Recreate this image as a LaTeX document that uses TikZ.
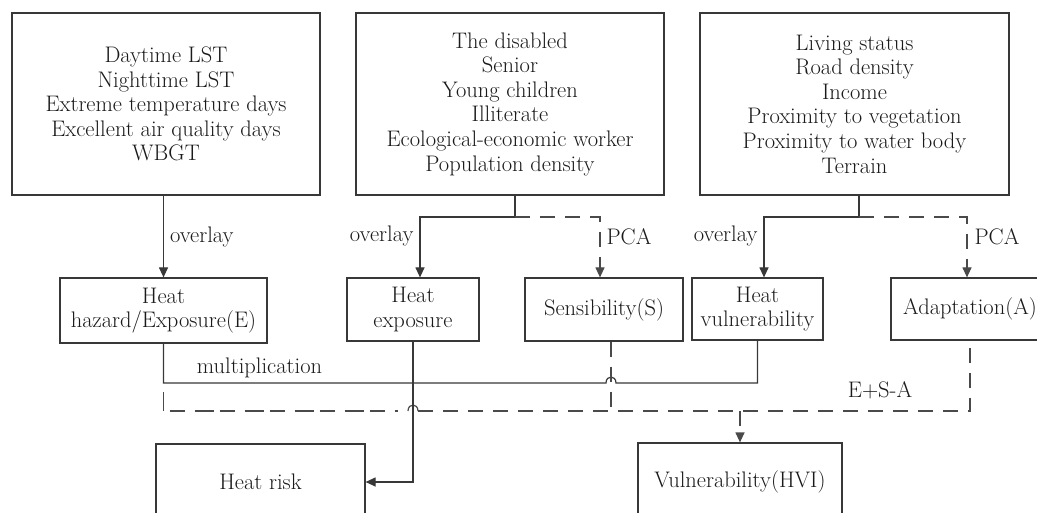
\documentclass[tikz,border=0pt]{standalone}
\usetikzlibrary{arrows.meta}
\definecolor{linec}{HTML}{383838}
\definecolor{dashc}{HTML}{4A4A4A}
\definecolor{txtc}{HTML}{1A1A1A}
\begin{document}
\begin{tikzpicture}[x=1pt,y=-1pt,
  box/.style={draw=linec, line width=1.2pt, inner sep=0pt, align=center,
    font=\fontsize{22.5}{24.6}\selectfont, text=txtc},
  conn/.style={draw=linec, line width=1.2pt},
  dconn/.style={draw=dashc, line width=1.2pt, dash pattern=on 15pt off 10pt},
  arr/.style={-{Triangle[length=10pt,width=9pt]}},
  lbl/.style={font=\fontsize{22.5}{24}\selectfont, text=txtc, inner sep=0pt}
]
\useasboundingbox (0,0) rectangle (1037,513);
\clip (0,0) rectangle (1037,513);
\fill[white] (0,0) rectangle (1037,513);

% top boxes
\node[box, minimum width=308pt, minimum height=182pt] (b1) at (166,104)
  {Daytime LST\\Nighttime LST\\Extreme temperature days\\Excellent air quality days\\WBGT};
\node[box, minimum width=308pt, minimum height=182pt] (b2) at (510,104)
  {The disabled\\Senior\\Young children\\Illiterate\\Ecological-economic worker\\Population density};
\node[box, minimum width=309pt, minimum height=182pt] (b3) at (854.5,104)
  {Living status\\Road density\\Income\\Proximity to vegetation\\Proximity to water body\\Terrain};

% middle boxes
\node[box, minimum width=207pt, minimum height=65pt] (E) at (163.5,310.5) {Heat\\hazard/Exposure(E)};
\node[box, minimum width=132pt, minimum height=63pt] (HE) at (413,309.5) {Heat\\exposure};
\node[box, minimum width=158pt, minimum height=63pt] (S) at (604,309.5) {Sensibility(S)};
\node[box, minimum width=131pt, minimum height=62pt] (HV) at (757.5,309) {Heat\\vulnerability};
\node[box, minimum width=158pt, minimum height=62pt] (A) at (970,309) {Adaptation(A)};

% bottom boxes
\node[box, minimum width=209pt, minimum height=76pt] (HR) at (260.5,482) {Heat risk};
\node[box, minimum width=204pt, minimum height=78pt] (HVI) at (740,482) {Vulnerability(HVI)};

% junctions
\coordinate (j2) at (515,217);
\coordinate (j3) at (859,217);
\coordinate (m1) at (163.5,383);
\coordinate (m2) at (163.5,392);
\coordinate (d1) at (163.5,411);
\coordinate (h1) at (408,411);
\coordinate (h2) at (418,411);

% top connectors
\draw[conn,arr] (b1.south -| E.north) -- node[lbl,right=6pt]{overlay} (E.north);
\draw[conn] (j2 |- b2.south) -- (j2);
\draw[conn,arr] (j2) -| node[lbl,left=6pt,pos=0.66]{overlay} ([xshift=7pt]HE.north);
\draw[dconn,arr] (j2) -| node[lbl,right=6pt,pos=0.66]{PCA} ([xshift=-4pt]S.north);
\draw[conn] (j3 |- b3.south) -- (j3);
\draw[conn,arr] (j3) -| node[lbl,left=6pt,pos=0.66]{overlay} ([xshift=6.5pt]HV.north);
\draw[dconn,arr] (j3) -| node[lbl,right=7pt,pos=0.66]{PCA} ([xshift=-3pt]A.north);

% lower connectors
\draw[conn] (E.south) -- (m1) -- (606,383) .. controls (606,375) and (616,375) .. (616,383)
  -- (HV.south |- m1) -- (HV.south);
\node[lbl] (mult) at (259.5,368) {multiplication};
\draw[dconn, dash pattern=on 19pt off 6pt on 15pt off 10pt] (m2) -- (d1) -- (398,411);
\draw[conn, draw=dashc] (h1) .. controls (408,403) and (418,403) .. (h2);
\draw[dconn] (h2) -- (A.south |- d1) -- (A.south);
\draw[dconn] ([xshift=7pt]S.south) -- ([xshift=7pt]S.south |- d1);
\node[lbl] (esa) at (880,390) {E+S-A};
\draw[dconn,arr] (HVI.north |- d1) -- (HVI.north);
\draw[conn,arr] (HE.south) |- (HR.east);
\end{tikzpicture}
\end{document}
